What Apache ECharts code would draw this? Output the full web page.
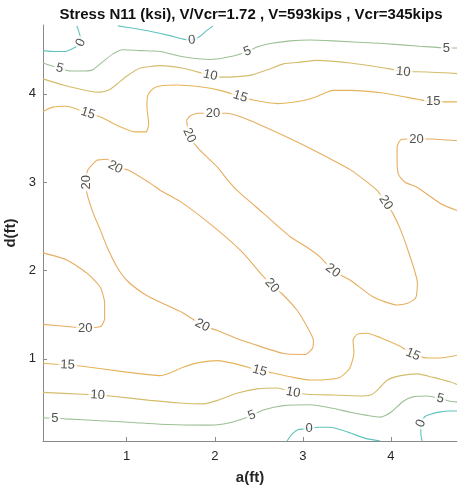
<!DOCTYPE html>
<html>
<head>
<meta charset="utf-8">
<script src="https://cdn.jsdelivr.net/npm/echarts@6/dist/echarts.min.js"></script>
<style>
  html, body { margin: 0; padding: 0; background: #ffffff; }
  #chart { width: 458px; height: 489px; }
</style>
</head>
<body>
<div id="chart"></div>
<script>
// Stress N11 (ksi) contour levels and axis ticks
const levels = [0, 5, 10, 15, 20];
const xTicks = [1, 2, 3, 4];
const yTicks = [1, 2, 3, 4];

// Contour paths as [a (ft), d (ft)] points
const n11_0_topLeft = [[0.05,4.49],[0.185,4.48],[0.30,4.48],[0.38,4.51],[0.435,4.54],[0.48,4.58],[0.47,4.66],[0.435,4.77]];
const n11_0_top = [[0.90,4.77],[1.09,4.74],[1.265,4.71],[1.49,4.66],[1.64,4.62],[1.74,4.61],[1.83,4.65],[1.90,4.71],[1.98,4.77]];
const n11_0_bottom = [[2.82,0.07],[2.88,0.15],[2.95,0.20],[3.07,0.21],[3.17,0.225],[3.31,0.225],[3.42,0.20],[3.54,0.16],[3.71,0.10],[3.88,0.07]];
const n11_0_bottomRight = [[4.355,0.07],[4.34,0.15],[4.34,0.27],[4.39,0.35],[4.47,0.38],[4.56,0.40],[4.67,0.41],[4.75,0.41]];

const n11_5_top = [[0.05,4.35],[0.24,4.29],[0.36,4.26],[0.53,4.26],[0.61,4.27],[0.70,4.34],[0.84,4.45],[0.96,4.50],[1.15,4.49],[1.38,4.48],[1.64,4.42],[1.95,4.39],[2.21,4.43],[2.37,4.48],[2.48,4.53],[2.63,4.57],[2.86,4.60],[3.08,4.61],[3.34,4.60],[3.91,4.57],[4.33,4.54],[4.63,4.52],[4.75,4.52]];
const n11_5_bottom = [[0.05,0.33],[0.185,0.33],[0.30,0.32],[0.70,0.30],[1.07,0.28],[1.38,0.26],[1.91,0.25],[2.08,0.26],[2.25,0.30],[2.42,0.36],[2.55,0.42],[2.78,0.47],[3.08,0.48],[3.34,0.44],[3.54,0.395],[3.73,0.36],[3.88,0.34],[4.00,0.395],[4.14,0.52],[4.25,0.57],[4.41,0.58],[4.56,0.55],[4.67,0.52],[4.75,0.51]];

const n11_10_top = [[0.05,4.17],[0.28,4.10],[0.58,4.03],[0.70,4.02],[0.79,4.04],[0.89,4.11],[1.00,4.20],[1.15,4.29],[1.38,4.32],[1.64,4.29],[1.95,4.21],[2.08,4.19],[2.40,4.21],[2.59,4.27],[2.78,4.34],[2.97,4.36],[3.16,4.38],[3.54,4.35],[4.00,4.28],[4.14,4.25],[4.30,4.25],[4.75,4.23]];
const n11_10_bottom = [[0.05,0.62],[0.50,0.60],[0.67,0.59],[0.81,0.58],[1.265,0.53],[1.61,0.50],[1.87,0.49],[2.03,0.53],[2.25,0.61],[2.48,0.66],[2.71,0.67],[2.89,0.62],[3.05,0.60],[3.34,0.59],[3.65,0.58],[3.77,0.59],[3.84,0.64],[3.96,0.76],[4.11,0.81],[4.30,0.83],[4.48,0.79],[4.67,0.74],[4.75,0.71]];

const n11_15_top = [[0.05,3.80],[0.16,3.85],[0.32,3.86],[0.56,3.78],[0.70,3.74],[0.92,3.63],[1.09,3.57],[1.22,3.57],[1.25,3.66],[1.23,3.85],[1.24,3.985],[1.30,4.06],[1.38,4.09],[1.57,4.10],[1.83,4.08],[2.06,4.04],[2.29,3.97],[2.435,3.93],[2.71,3.89],[2.89,3.905],[3.03,3.93],[3.16,3.97],[3.34,4.04],[3.54,4.04],[3.91,4.01],[4.30,3.94],[4.48,3.91],[4.75,3.91]];
const n11_15_bottom = [[0.05,0.95],[0.33,0.93],[0.47,0.92],[1.00,0.85],[1.38,0.81],[1.49,0.84],[1.64,0.905],[1.83,0.96],[2.03,0.98],[2.25,0.94],[2.51,0.865],[2.66,0.84],[2.89,0.79],[3.08,0.76],[3.20,0.76],[3.42,0.79],[3.53,0.89],[3.58,1.07],[3.57,1.21],[3.62,1.28],[3.73,1.29],[3.88,1.24],[4.11,1.14],[4.25,1.05],[4.41,1.01],[4.56,1.01],[4.75,1.04]];

const n11_20_left = [[0.05,2.20],[0.32,2.12],[0.55,1.97],[0.70,1.81],[0.75,1.63],[0.75,1.46],[0.71,1.37],[0.53,1.35],[0.39,1.36],[0.05,1.39]];
const n11_20_lowerLoop = [[0.66,3.25],[0.78,3.26],[0.87,3.17],[1.01,3.14],[1.265,2.99],[1.38,2.91],[1.64,2.76],[2.03,2.46],[2.32,2.20],[2.51,1.98],[2.65,1.83],[2.76,1.74],[2.935,1.55],[3.05,1.36],[3.12,1.21],[3.11,1.12],[3.03,1.05],[2.78,1.06],[2.40,1.18],[2.25,1.23],[2.03,1.32],[1.86,1.38],[1.64,1.52],[1.38,1.64],[1.19,1.74],[1.00,1.89],[0.89,2.04],[0.78,2.26],[0.70,2.46],[0.62,2.65],[0.55,2.87],[0.54,3.00],[0.56,3.14],[0.66,3.25]];
const n11_20_upperLoop = [[1.68,3.70],[1.72,3.75],[1.81,3.78],[1.98,3.78],[2.14,3.78],[2.40,3.70],[2.78,3.53],[3.08,3.385],[3.54,3.14],[3.84,2.91],[3.94,2.77],[4.02,2.65],[4.11,2.46],[4.22,2.15],[4.30,1.86],[4.28,1.69],[4.19,1.63],[4.07,1.61],[3.80,1.70],[3.54,1.89],[3.34,2.00],[3.20,2.15],[3.03,2.275],[2.86,2.38],[2.55,2.65],[2.25,2.91],[2.15,3.02],[2.03,3.17],[1.81,3.385],[1.71,3.53],[1.68,3.70]];
const n11_20_right = [[4.75,3.47],[4.44,3.49],[4.29,3.49],[4.19,3.49],[4.11,3.48],[4.07,3.40],[4.07,3.215],[4.09,3.08],[4.16,3.00],[4.30,2.94],[4.56,2.76],[4.75,2.68]];

// Inline contour labels: level value and position [a, d]
const labelLevels = [0, 0, 0, 0, 5, 5, 5, 5, 5, 5, 10, 10, 10, 10, 15, 15, 15, 15, 15, 15, 20, 20, 20, 20, 20, 20, 20, 20, 20, 20];
const labelPoints = [
  [0.48,4.58],[1.74,4.61],[3.07,0.21],[4.34,0.27],
  [0.24,4.29],[2.37,4.48],[4.63,4.52],[0.185,0.33],[2.42,0.36],[4.56,0.55],
  [1.95,4.21],[4.14,4.25],[0.67,0.59],[2.89,0.62],
  [0.56,3.78],[2.29,3.97],[4.48,3.91],[0.33,0.93],[2.51,0.865],[4.25,1.05],
  [0.53,1.35],[0.87,3.17],[0.54,3.00],[2.65,1.83],[1.86,1.38],[1.98,3.78],[1.71,3.53],[3.94,2.77],[3.34,2.00],[4.29,3.49]
];
// text angle of each label along its line (degrees)
const labelAngles = [65, 5, 0, 70, -15, 20, 0, 0, 21, -13, -12, -5, -3, -10, -18, -17, 0, -2, -15, -23, 0, -28, 90, -48, -27, 0, -65, -57, -37, 0];

const contourPaths = [
  [0, n11_0_topLeft], [0, n11_0_top], [0, n11_0_bottom], [0, n11_0_bottomRight],
  [5, n11_5_top], [5, n11_5_bottom],
  [10, n11_10_top], [10, n11_10_bottom],
  [15, n11_15_top], [15, n11_15_bottom],
  [20, n11_20_left], [20, n11_20_lowerLoop], [20, n11_20_upperLoop], [20, n11_20_right]
];

const levelColor = { 0: '#5fc3bd', 5: '#9cc094', 10: '#d3bc6a', 15: '#e5b45a', 20: '#e7ad60' };
const FONT = '"Liberation Sans", Arial, Helvetica, sans-serif';

const chart = echarts.init(document.getElementById('chart'), null, { renderer: 'canvas' });

const series = contourPaths.map(([lvl, path]) => ({
  type: 'line',
  data: path,
  showSymbol: false,
  symbol: 'none',
  smooth: 0.2,
  silent: true,
  z: 2,
  lineStyle: { color: levelColor[lvl], width: 1.1 }
}));

const labelData = labelPoints.map((p, i) => ({
  value: [p[0], p[1], labelLevels[i]],
  label: { rotate: labelAngles[i] }
}));

// contour value labels, boxed in white so the line breaks around them
series.push({
  type: 'scatter',
  data: labelData,
  symbolSize: 1,
  itemStyle: { color: 'rgba(0,0,0,0)' },
  silent: true,
  z: 5,
  label: {
    show: true,
    position: 'inside',
    formatter: (p) => String(p.value[2]),
    fontFamily: FONT,
    fontSize: 13,
    color: '#262626',
    backgroundColor: '#ffffff',
    padding: [0, 2]
  }
});

chart.setOption({
  animation: false,
  backgroundColor: '#ffffff',
  grid: { left: 43, right: 1, top: 25, bottom: 48, containLabel: false, outerBoundsMode: 'none' },
  graphic: [{
    type: 'text',
    x: 251,
    y: 15,
    style: {
      text: 'Stress N11 (ksi), V/Vcr=1.72 , V=593kips , Vcr=345kips',
      font: 'bold 15px ' + FONT,
      fill: '#111111',
      align: 'center',
      verticalAlign: 'middle',
      textAlign: 'center',
      textVerticalAlign: 'middle'
    }
  }],
  xAxis: {
    type: 'value',
    min: 0.05,
    max: 4.75,
    name: 'a(ft)',
    nameLocation: 'middle',
    nameGap: 29,
    nameTextStyle: { fontFamily: FONT, fontSize: 15, fontWeight: 'bold', color: '#262626' },
    axisLine: { show: true, lineStyle: { color: '#8a8a8a', width: 1 } },
    axisTick: { show: true, inside: true, length: 4, customValues: xTicks, lineStyle: { color: '#8a8a8a' } },
    axisLabel: { customValues: xTicks, margin: 9, fontFamily: FONT, fontSize: 13, color: '#262626' },
    splitLine: { show: false }
  },
  yAxis: {
    type: 'value',
    min: 0.07,
    max: 4.78,
    name: 'd(ft)',
    nameLocation: 'middle',
    nameGap: 20,
    nameTextStyle: { fontFamily: FONT, fontSize: 15, fontWeight: 'bold', color: '#262626' },
    axisLine: { show: true, lineStyle: { color: '#8a8a8a', width: 1 } },
    axisTick: { show: true, inside: true, length: 4, customValues: yTicks, lineStyle: { color: '#8a8a8a' } },
    axisLabel: { customValues: yTicks, margin: 7, fontFamily: FONT, fontSize: 13, color: '#262626' },
    splitLine: { show: false }
  },
  series: series
});
</script>
</body>
</html>
